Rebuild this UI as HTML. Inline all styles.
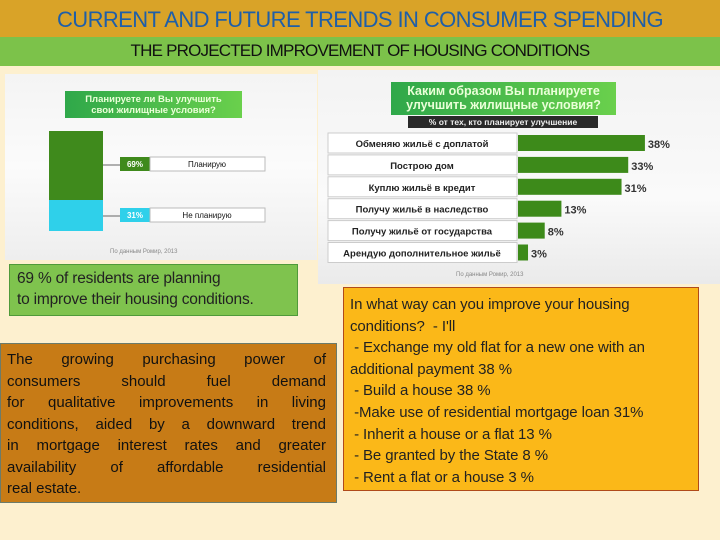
<!DOCTYPE html>
<html><head><meta charset="utf-8"><style>
body{margin:0;width:720px;height:540px;overflow:hidden;background:#fdf0cf;font-family:"Liberation Sans","Noto Sans CJK SC",sans-serif;position:relative}
div{position:absolute;box-sizing:border-box}
.j span{display:block;text-align:justify;text-align-last:justify;white-space:nowrap}
.j span.l{text-align-last:left}
</style></head><body>
<div style="left:0;top:0;width:720px;height:37px;background:#d9a328"></div>
<div style="left:0;top:7px;width:720px;text-align:center;color:#1f5fa8;font-size:22px;letter-spacing:-0.6px">CURRENT AND FUTURE TRENDS IN CONSUMER SPENDING</div>
<div style="left:0;top:37px;width:720px;height:29px;background:#7cc24a"></div>
<div style="left:0;top:41px;width:720px;text-align:center;color:#111;font-size:17px;letter-spacing:-0.8px">THE PROJECTED IMPROVEMENT OF HOUSING CONDITIONS</div>

<div style="left:5px;top:74px;width:312px;height:186px;background:linear-gradient(#f4f4f4,#fbfbfb 50%,#eee)"></div>
<div style="left:65px;top:91px;width:177px;height:27px;background:linear-gradient(90deg,#2fa84a,#6ad04c);color:#eaffd8;font-size:9.5px;font-weight:bold;text-align:center;line-height:11px;padding-top:3px">Планируете ли Вы улучшить<br>свои жилищные условия?</div>
<svg id="lc" style="position:absolute;left:0;top:0" width="330" height="260"></svg>
<div style="left:110px;top:249px;font-size:6px;color:#888">По данным Ромир, 2013</div>

<div style="left:318px;top:70px;width:402px;height:214px;background:linear-gradient(#f3f3f3,#fafafa 60%,#eaeaea)"></div>
<div style="left:391px;top:82px;width:225px;height:33px;background:linear-gradient(90deg,#2fa84a,#6ad04c);color:#eaffd8;font-size:12.5px;font-weight:bold;text-align:center;line-height:14px;padding-top:2px">Каким образом Вы планируете<br>улучшить жилищные условия?</div>
<div style="left:408px;top:116px;width:190px;height:12px;background:#2a2a2a;color:#eee;font-size:8.5px;font-weight:bold;text-align:center;line-height:12px">% от тех, кто планирует улучшение</div>
<svg id="rc" style="position:absolute;left:318px;top:130px" width="402" height="140"></svg>
<div style="left:456px;top:272px;font-size:6px;color:#888">По данным Ромир, 2013</div>

<div style="left:9px;top:264px;width:289px;height:52px;background:#7fc34e;border:1px solid #4f9a3a;font-size:15.5px;line-height:21px;padding:3px 0 0 7px;color:#222;letter-spacing:-0.2px">69 % of residents are planning<br>to improve their housing conditions.</div>
<div class="j" style="left:0;top:343px;width:337px;height:160px;background:#c77b16;border:1px solid #6b7b6b;font-size:15px;line-height:21.5px;padding:5px 10px 0 6px;color:#111"><span>The growing purchasing power of</span><span>consumers should fuel demand</span><span>for qualitative improvements in living</span><span>conditions, aided by a downward trend</span><span>in mortgage interest rates and greater</span><span>availability of affordable residential</span><span class="l">real estate.</span></div>
<div style="left:343px;top:287px;width:356px;height:204px;background:#fbb818;border:1px solid #b04a1a;font-size:15px;line-height:21.6px;padding:6px 0 0 6px;color:#222;white-space:pre;letter-spacing:-0.1px">In what way can you improve your housing
conditions?  - I'll
 - Exchange my old flat for a new one with an
additional payment 38 %
 - Build a house 38 %
 -Make use of residential mortgage loan 31%
 - Inherit a house or a flat 13 %
 - Be granted by the State 8 %
 - Rent a flat or a house 3 %</div>

<script>
const leftCats=["Планирую","Не планирую"];
const leftVals=[69,31];
const leftColors=["#3f8a1c","#2fd0ea"];
const rightCats=["Обменяю жильё с доплатой","Построю дом","Куплю жильё в кредит","Получу жильё в наследство","Получу жильё от государства","Арендую дополнительное жильё"];
const rightVals=[38,33,31,13,8,3];
const NS="http://www.w3.org/2000/svg";
function mk(p,t,a,txt){const e=document.createElementNS(NS,t);for(const k in a)e.setAttribute(k,a[k]);if(txt!=null)e.textContent=txt;p.appendChild(e);return e;}
const lc=document.getElementById('lc');
const total=leftVals.reduce((a,b)=>a+b,0);
const by0=131,bh=100;const yL=v=>by0+v/total*bh;
let acc=0;
leftVals.forEach((v,i)=>{
 const y0=yL(acc),y1=yL(acc+v);acc+=v;
 const r=mk(lc,'rect',{x:49,y:y0,width:54,height:y1-y0,fill:leftColors[i]});
 
 
 const ly=i==0?164:215;
 mk(lc,'line',{x1:103,y1:ly+1,x2:120,y2:ly+1,stroke:'#666','stroke-width':1});
 mk(lc,'rect',{x:120,y:ly-7,width:30,height:14,fill:leftColors[i]});
 const t=mk(lc,'text',{x:135,y:ly+3,'font-size':8,'font-weight':'bold',fill:'#fff','text-anchor':'middle'},v+'%');
 
 
 mk(lc,'rect',{x:150,y:ly-7,width:115,height:14,fill:'#fff',stroke:'#bbb'});
 const c=mk(lc,'text',{x:207,y:ly+3,'font-size':8,fill:'#111','text-anchor':'middle'},leftCats[i]);
 
 
});
const rc=document.getElementById('rc');
const x0=200,sx=3.34;const xR=v=>x0+v*sx;
const rowY=i=>13+i*21.9;
rightCats.forEach((c,i)=>{
 const cy=rowY(i);
 mk(rc,'rect',{x:10,y:cy-10,width:189,height:20,fill:'#fff',stroke:'#ccc'});
 const l=mk(rc,'text',{x:104,y:cy+4,'font-size':9.5,'font-weight':'bold',fill:'#222','text-anchor':'middle'},c);
 
 
 const b=mk(rc,'rect',{x:x0,y:cy-8,width:xR(rightVals[i])-x0,height:16,fill:'#3d8a1a'});
 
 
 const v=mk(rc,'text',{x:xR(rightVals[i])+3,y:cy+5,'font-size':11,'font-weight':'bold',fill:'#333'},rightVals[i]+'%');
 
 
});
</script>
</body></html>
